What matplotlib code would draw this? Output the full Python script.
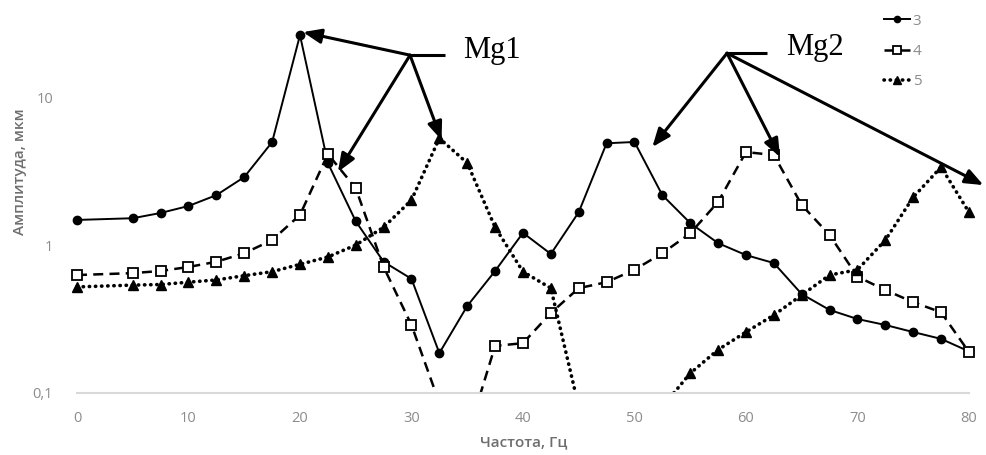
import numpy as np
import matplotlib
matplotlib.use("Agg")
import matplotlib.pyplot as plt

# frequency, Hz (step 2.5, no point at 2.5)
freq = [0, 5, 7.5, 10, 12.5, 15, 17.5, 20, 22.5, 25, 27.5, 30, 32.5, 35, 37.5,
        40, 42.5, 45, 47.5, 50, 52.5, 55, 57.5, 60, 62.5, 65, 67.5, 70, 72.5,
        75, 77.5, 80]

# amplitude, mkm
amp_3 = [1.48, 1.52, 1.65, 1.84, 2.18, 2.89, 4.99, 26.5, 3.6, 1.45, 0.77, 0.59,
         0.185, 0.386, 0.667, 1.21, 0.87, 1.67, 4.9, 5.0, 2.18, 1.41, 1.03, 0.855,
         0.755, 0.465, 0.363, 0.315, 0.287, 0.257, 0.231, 0.19]
amp_4 = [0.626, 0.645, 0.667, 0.71, 0.77, 0.88, 1.08, 1.6, 4.14, 2.43, 0.71, 0.287,
         0.085, 0.05, 0.207, 0.216, 0.346, 0.51, 0.56, 0.68, 0.88, 1.2, 1.96, 4.27,
         4.08, 1.87, 1.17, 0.61, 0.495, 0.41, 0.35, 0.188]
amp_5 = [0.52, 0.535, 0.54, 0.56, 0.58, 0.62, 0.66, 0.74, 0.83, 1.0, 1.32, 2.02,
         5.3, 3.6, 1.32, 0.66, 0.51, 0.08, 0.045, 0.05, 0.08, 0.135, 0.195, 0.257,
         0.335, 0.458, 0.626, 0.68, 1.08, 2.11, 3.38, 1.67]

series_names = ["3", "4", "5"]
ytick_vals = [0.1, 1, 10]
ytick_text = ["0,1", "1", "10"]
xtick_vals = [0, 10, 20, 30, 40, 50, 60, 70, 80]

W, H = 986, 455
fig = plt.figure(figsize=(W / 100, H / 100), dpi=100)
ax = fig.add_axes([60 / W, 62.5 / H, 924 / W, 392.5 / H])

ax.plot(freq, amp_3, color="black", lw=1.4, marker="o", ms=6,
        label=series_names[0])
ax.plot(freq, amp_4, color="black", lw=1.8, ls=(0, (4, 2.5)), marker="s", ms=7,
        mfc="white", mew=1.3, label=series_names[1])
ax.plot(freq, amp_5, color="black", lw=2.6, ls=(0, (0.1, 1.6)),
        dash_capstyle="round", marker="^", ms=7, label=series_names[2])

ax.set_yscale("log")
ax.set_xlim(-1.525, 81.35)
ax.set_ylim(0.1, 45.9)
ax.set_yticks(ytick_vals)
ax.set_yticklabels(ytick_text)
ax.yaxis.set_minor_locator(matplotlib.ticker.NullLocator())
ax.set_xticks(xtick_vals)

for s in ["top", "right", "left"]:
    ax.spines[s].set_visible(False)
ax.spines["bottom"].set_color("#d9d9d9")
ax.spines["bottom"].set_linewidth(1.5)
ax.spines["bottom"].set_bounds(0, 80)
ax.tick_params(length=0, labelsize=10.5, colors="#8c8c8c")
ax.tick_params(axis="x", pad=13)
ax.tick_params(axis="y", pad=5)
for lab in ax.get_xticklabels() + ax.get_yticklabels():
    lab.set_family("Open Sans")

fig.text(524 / W, 1 - 442 / H, "Частота, Гц", ha="center", va="center",
         fontsize=11, color="#6e6e6e", family="Open Sans", weight="semibold")
fig.text(20 / W, 1 - 172 / H, "Амплитуда, мкм", ha="center", va="center",
         rotation=90, fontsize=11, color="#6e6e6e", family="Open Sans",
         weight="semibold")

leg = ax.legend(loc="upper left", bbox_to_anchor=(876 / W, 1 - 6 / H),
                bbox_transform=fig.transFigure, frameon=False, fontsize=11,
                handlelength=1.7, handletextpad=0.2, labelspacing=1.0,
                borderpad=0, markerscale=0.75)
for t in leg.get_texts():
    t.set_color("#8c8c8c")
    t.set_family("Open Sans")

# annotations Mg1 / Mg2
arrow = dict(arrowstyle="-|>,head_length=0.55,head_width=0.22", color="black",
             lw=2.2, mutation_scale=20, shrinkA=0, shrinkB=0)
mg1_hub = (29.87, 19.4)
for tip in [(20.27, 27.8), (23.4, 3.13), (32.7, 5.15)]:
    ax.annotate("", xy=tip, xytext=mg1_hub, arrowprops=arrow,
                annotation_clip=False)
ax.plot([mg1_hub[0], 33.0], [mg1_hub[1], mg1_hub[1]], color="black", lw=2.2,
        solid_capstyle="butt", clip_on=False)
ax.text(34.6, 21.0, "Mg1", fontsize=22, family="Liberation Serif",
        ha="left", va="center")

mg2_hub = (58.3, 20.0)
for tip in [(51.6, 4.62), (63.05, 3.95), (81.3, 2.55)]:
    ax.annotate("", xy=tip, xytext=mg2_hub, arrowprops=arrow,
                annotation_clip=False)
ax.plot([mg2_hub[0], 61.9], [mg2_hub[1], mg2_hub[1]], color="black", lw=2.2,
        solid_capstyle="butt", clip_on=False)
ax.text(63.6, 22.0, "Mg2", fontsize=22, family="Liberation Serif",
        ha="left", va="center")

fig.savefig("out.png", dpi=100)
